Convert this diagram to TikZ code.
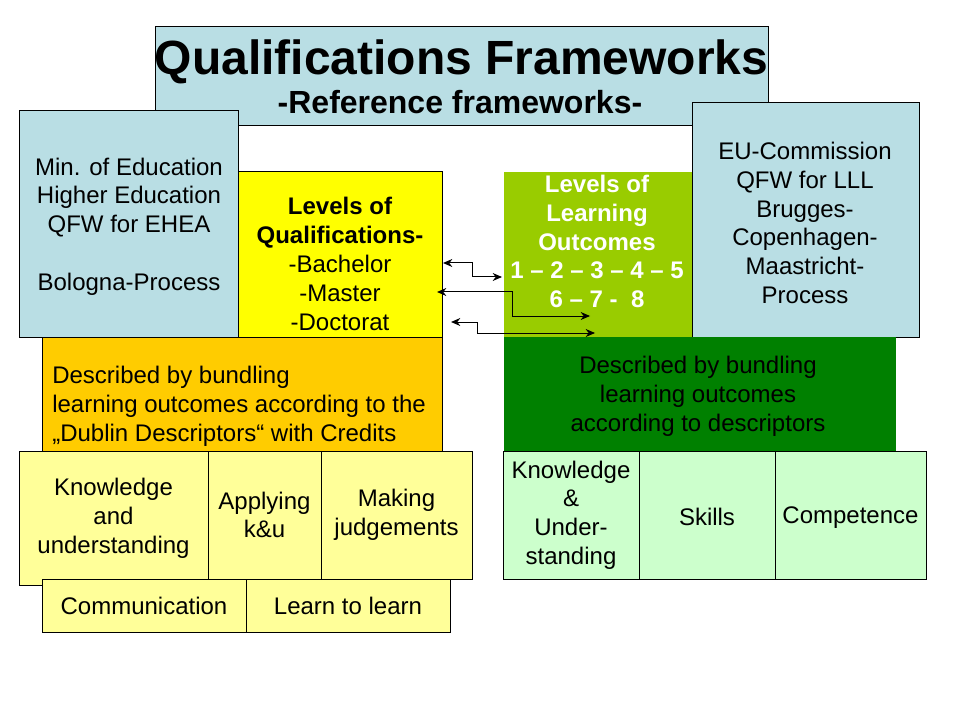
\documentclass[tikz,border=0pt]{standalone}
\usepackage{fontspec}
\setmainfont{Liberation Sans}
\usepackage{xcolor}
\usetikzlibrary{arrows.meta}

\definecolor{paleblue}{RGB}{185,222,228}
\definecolor{qualyellow}{RGB}{255,255,0}
\definecolor{bundleorange}{RGB}{255,204,0}
\definecolor{paleyellow}{RGB}{255,255,153}
\definecolor{leafgreen}{RGB}{153,204,0}
\definecolor{deepgreen}{RGB}{0,128,0}
\definecolor{mintgreen}{RGB}{204,255,204}

\tikzset{
    panel/.style 2 args={inner sep=0pt, minimum width=#1*0.75pt, minimum height=#2*0.75pt},
    edged/.style={draw, line width=0.75pt},
    txt/.style={font=\fontsize{18}{21.6}\selectfont, align=center, inner sep=0pt},
    link/.style={{Stealth[length=7pt,width=6pt]}-{Stealth[length=7pt,width=6pt]}, line width=0.75pt},
}

\begin{document}
\begin{tikzpicture}[x=0.75pt, y=-0.75pt]
        \useasboundingbox (0,0) rectangle (960,720);

        % frameworks on top
        \node[panel={613}{99}, edged, fill=paleblue] (head) at (461.5,76.5) {};
        \node[anchor=base, inner sep=0pt, font=\fontsize{36}{43}\selectfont\bfseries] (title) at (461.5,75) {Qualifications Frameworks};
        \node[anchor=base, inner sep=0pt, font=\fontsize{24}{29}\selectfont\bfseries] (subtitle) at (460,114) {-Reference frameworks-};

        \node[panel={219}{226}, edged, fill=paleblue] (ehea) at (128.5,224) {};
        \node[txt] (ehea-t) at (129,226.5) {Min. of Education\\Higher Education\\QFW for EHEA\\[21.6pt]Bologna-Process};
        \node[panel={227}{234}, edged, fill=paleblue] (lll) at (805.5,220) {};
        \node[txt] (lll-t) at (805,223) {EU-Commission\\QFW for LLL\\Brugges-\\Copenhagen-\\Maastricht-\\Process};

        % levels
        \node[panel={204}{165}, edged, fill=qualyellow] (qual) at (340,254.5) {};
        \node[txt] (qual-t) at (340,264) {\bfseries Levels of\\\bfseries Qualifications-\\-Bachelor\\-Master\\-Doctorat};
        \node[panel={188}{165}, fill=leafgreen] (outc) at (598,254.5) {};
        \node[txt, text=white, font=\fontsize{18}{21.6}\selectfont\bfseries] (outc-t) at (597,241.5) {Levels of\\Learning\\Outcomes\\1 – 2 – 3 – 4 – 5\\6 – 7 -\ \ 8};

        % descriptors
        \node[panel={400}{114}, edged, fill=bundleorange] (dublin) at (242,394) {};
        \node[txt, align=left, anchor=west] (dublin-t) at (52,406) {Described by bundling\\learning outcomes according to the\\„Dublin Descriptors“ with Credits};
        \node[panel={392}{114}, fill=deepgreen] (desc) at (700,394) {};
        \node[txt] (desc-t) at (698,396.5) {Described by bundling\\learning outcomes\\according to descriptors};

        \node[panel={189}{134}, edged, fill=paleyellow, txt] (know) at (113.5,518) {Knowledge\\and\\understanding};
        \node[panel={113}{128}, edged, fill=paleyellow, txt] (apply) at (264.5,515) {Applying\\k\&u};
        \node[panel={151}{128}, edged, fill=paleyellow, txt] (judge) at (396.5,515) {Making\\judgements};
        \node[panel={204}{53}, edged, fill=paleyellow, txt] (comm) at (144,605.5) {Communication};
        \node[panel={204}{53}, edged, fill=paleyellow, txt] (learn) at (348,605.5) {Learn to learn};

        \node[panel={136}{128}, edged, fill=mintgreen, txt] (ku) at (571,515) {Knowledge\\\&\\Under-\\standing};
        \node[panel={136}{128}, edged, fill=mintgreen] (skills) at (707,515) {};
        \node[txt] (skills-t) at (707,516.5) {Skills};
        \node[panel={151}{128}, edged, fill=mintgreen] (comp) at (850.5,515) {};
        \node[txt] (comp-t) at (850.5,518) {Competence};

        % links between the levels
        \coordinate (bach) at (443,263);
        \coordinate (mast) at (437,292);
        \coordinate (doct) at (451,322);
        \coordinate (lvl1) at (502,277);
        \coordinate (lvl2) at (590,316);
        \coordinate (lvl3) at (595,333);

        \draw[link] (bach) -- ++(29,0) |- (lvl1);
        \draw[link] (mast) -- ++(75,0) |- (lvl2);
        \draw[link] (doct) -- ++(26,0) |- (lvl3);
    \end{tikzpicture}
\end{document}
